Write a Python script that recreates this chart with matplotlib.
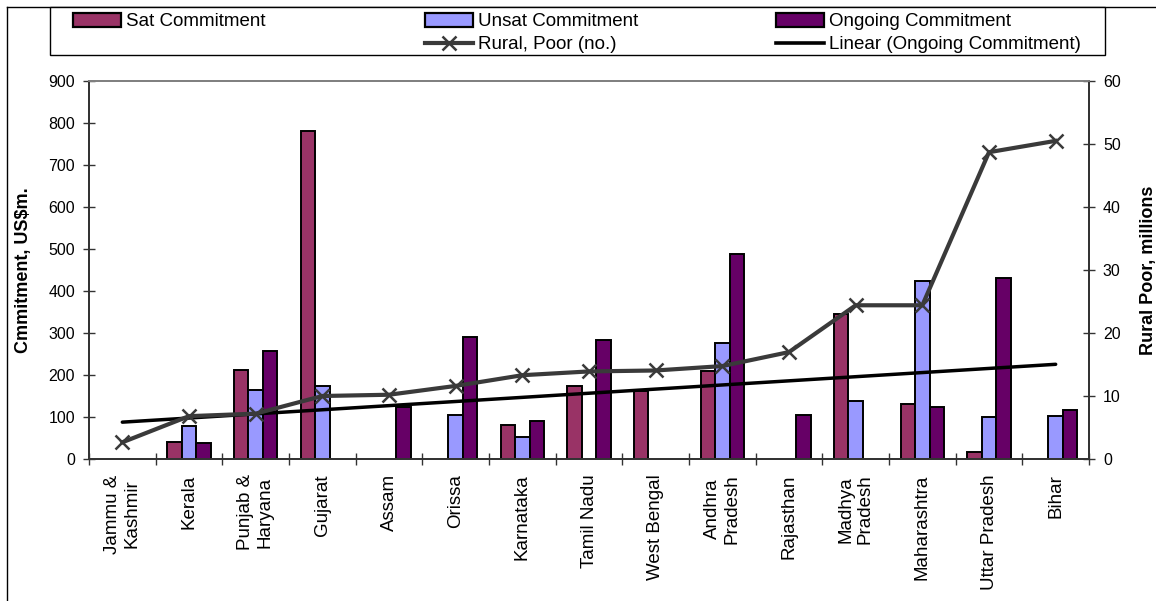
import numpy as np
import matplotlib.pyplot as plt
from matplotlib.patches import Patch, Rectangle
from matplotlib.lines import Line2D

plt.rcParams['font.family'] = ['Liberation Sans', 'DejaVu Sans']

states = ['Jammu &\nKashmir', 'Kerala', 'Punjab &\nHaryana', 'Gujarat', 'Assam', 'Orissa',
          'Karnataka', 'Tamil Nadu', 'West Bengal', 'Andhra\nPradesh', 'Rajasthan',
          'Madhya\nPradesh', 'Maharashtra', 'Uttar Pradesh', 'Bihar']
nan = np.nan
sat = [nan, 41, 212, 780, nan, nan, 80, 175, 162, 209, nan, 346, 132, 17, nan]
unsat = [nan, 79, 165, 174, nan, 104, 53, nan, nan, 276, nan, 139, 424, 100, 103]
ongoing = [nan, 37, 258, nan, 125, 291, 91, 283, nan, 487, 105, nan, 123, 432, 117]
rural_poor = [2.65, 6.8, 7.2, 10.0, 10.2, 11.6, 13.3, 13.9, 14.05, 14.75, 16.97, 24.4, 24.4, 48.7, 50.5]

c_sat = '#993366'
c_unsat = '#9999FF'
c_ong = '#660066'
c_line = '#3a3a3a'

W, H = 1156, 601
fig = plt.figure(figsize=(W/100, H/100), dpi=100)
ax = fig.add_axes([89/W, 1-459/H, 1000/W, 378/H])
ax2 = ax.twinx()

x = np.arange(len(states))
w = 0.216
bkw = dict(edgecolor='black', linewidth=1.4, zorder=2)
ax.bar(x - w, sat, w, color=c_sat, **bkw)
ax.bar(x, unsat, w, color=c_unsat, **bkw)
ax.bar(x + w, ongoing, w, color=c_ong, **bkw)

# linear trend of ongoing commitment (blanks as zero, like Excel)
coef = np.polyfit(x + 1, np.nan_to_num(np.array(ongoing, dtype=float)), 1)
ax.plot(x, np.polyval(coef, x + 1), color='black', lw=2.5, zorder=3, solid_capstyle='round')

ax2.plot(x, rural_poor, color=c_line, lw=3, marker='x', ms=10, mew=1.8, zorder=4)

ax.set_xlim(-0.5, len(states) - 0.5)
ax.set_ylim(0, 900)
ax.set_yticks(range(0, 901, 100))
ax2.set_ylim(0, 60)
ax2.set_yticks(range(0, 61, 10))

ax.set_xticks(x)
ax.set_xticklabels(states, rotation=90, fontsize=13.5, ha='center', va='top', multialignment='center')
ax.set_xticks(np.arange(-0.5, len(states)), minor=True)
ax.tick_params(axis='x', which='major', length=0, pad=11)
ax.tick_params(axis='x', which='minor', direction='inout', length=8, width=1, color='#333333')
ax.tick_params(axis='y', direction='inout', length=8, width=1, labelsize=11.5, pad=6, color='#333333')
ax2.tick_params(axis='y', direction='inout', length=8, width=1, labelsize=11.5, pad=6, color='#333333')

for a in (ax, ax2):
    for s in ('left', 'right', 'bottom'):
        a.spines[s].set_color('#333333')
        a.spines[s].set_linewidth(1.3)
    a.spines['top'].set_color('#808080')
    a.spines['top'].set_linewidth(1.3)

ax.set_ylabel('Cmmitment, US$m.', fontsize=13, fontweight='bold', labelpad=12)
ax2.set_ylabel('Rural Poor, millions', fontsize=13, fontweight='bold', labelpad=14)

# legend across the top: frame plus three columns
fig.add_artist(Rectangle((50/W, 1-55/H), 1055/W, 48/H, transform=fig.transFigure,
                         facecolor='white', edgecolor='black', lw=1, zorder=5))
lkw = dict(loc='upper left', fontsize=13.5, frameon=False, handlelength=2.55,
           handleheight=0.75, handletextpad=0.3, borderpad=0, labelspacing=0.3,
           borderaxespad=0)
cols = [
    (73, [Patch(facecolor=c_sat, edgecolor='black', lw=1.6)], ['Sat Commitment']),
    (425, [Patch(facecolor=c_unsat, edgecolor='black', lw=1.6),
           Line2D([], [], color=c_line, lw=3, marker='x', ms=10, mew=1.8)],
     ['Unsat Commitment', 'Rural, Poor (no.)']),
    (776, [Patch(facecolor=c_ong, edgecolor='black', lw=1.6),
           Line2D([], [], color='black', lw=2.6)],
     ['Ongoing Commitment', 'Linear (Ongoing Commitment)']),
]
for x0, hs, ls in cols:
    lg = fig.legend(hs, ls, bbox_to_anchor=(x0/W, 1-13/H), **lkw)
    lg.set_zorder(6)

# outer chart border
fig.add_artist(Line2D([7/W, 7/W], [0, 1-7/H], color='black', lw=1, transform=fig.transFigure))
fig.add_artist(Line2D([7/W, 1], [1-7/H, 1-7/H], color='black', lw=1, transform=fig.transFigure))

fig.savefig('out.png', dpi=100)
